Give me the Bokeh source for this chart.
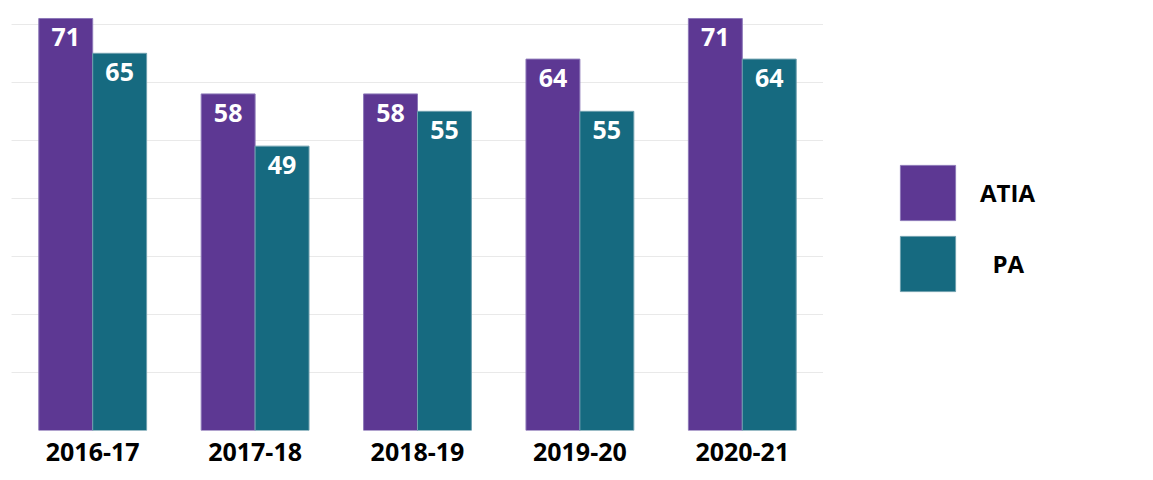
from bokeh.plotting import figure
from bokeh.layouts import row
from bokeh.models import ColumnDataSource, FactorRange, Range1d, Grid, FixedTicker, Legend, LegendItem
from bokeh.transform import dodge
from bokeh.core.properties import value
from bokeh.embed import file_html
from bokeh.resources import INLINE

years = ["2016-17", "2017-18", "2018-19", "2019-20", "2020-21"]
atia = [71, 58, 58, 64, 71]
pa = [65, 49, 55, 55, 64]
series_names = ["ATIA", "\u00a0\u00a0PA"]
grid_ticks = [0, 10, 20, 30, 40, 50, 60, 70]

FONT = "Open Sans"
PURPLE = "#5D3893"
TEAL = "#166A80"
PURPLE_EDGE = "#8C78B8"
TEAL_EDGE = "#6E9FAE"

src = ColumnDataSource(dict(
    year=years, atia=atia, pa=pa,
    atia_lbl=[str(v) for v in atia], pa_lbl=[str(v) for v in pa],
))

p = figure(
    x_range=FactorRange(*years, range_padding=0),
    y_range=Range1d(0, 74.1),
    width=823, height=480,
    output_backend="svg", toolbar_location=None,
    y_axis_location=None,
    min_border_left=11, min_border_right=0, min_border_top=0, min_border_bottom=50,
)
p.outline_line_color = None
p.xgrid.visible = False
p.add_layout(Grid(dimension=1, ticker=FixedTicker(ticks=grid_ticks),
                  grid_line_color="#e9e9e9", grid_line_width=1))

bw = 0.332
p.vbar(x=dodge("year", -bw / 2, range=p.x_range), top="atia", width=bw, source=src,
       fill_color=PURPLE, line_color=PURPLE_EDGE, line_width=1)
p.vbar(x=dodge("year", bw / 2, range=p.x_range), top="pa", width=bw, source=src,
       fill_color=TEAL, line_color=TEAL_EDGE, line_width=1)

for off, col in ((-bw / 2, "atia"), (bw / 2, "pa")):
    p.text(x=dodge("year", off, range=p.x_range), y=col, text=col + "_lbl", source=src,
           text_align="center", text_baseline="top", y_offset=10,
           text_color="white", text_font=value(FONT), text_font_style="bold",
           text_font_size="25px")

ax = p.xaxis[0]
ax.axis_line_color = None
ax.major_tick_line_color = None
ax.minor_tick_line_color = None
ax.major_label_text_font = FONT
ax.major_label_text_font_style = "bold"
ax.major_label_text_font_size = "25px"
ax.major_label_text_color = "#000000"
ax.major_label_standoff = 6

# legend panel (hidden proxy renderers carry the series styling)
lg = figure(
    width=330, height=480, output_backend="svg", toolbar_location=None,
    x_axis_location=None, y_axis_location=None,
    x_range=FactorRange(*years), y_range=Range1d(0, 1),
    min_border_left=0, min_border_right=0, min_border_top=0, min_border_bottom=0,
)
lg.outline_line_color = None
lg.grid.visible = False
l1 = lg.vbar(x="year", top="atia", width=0.3, source=src,
             fill_color=PURPLE, line_color=PURPLE_EDGE, line_width=1, visible=False)
l2 = lg.vbar(x="year", top="pa", width=0.3, source=src,
             fill_color=TEAL, line_color=TEAL_EDGE, line_width=1, visible=False)

legend = Legend(
    items=[LegendItem(label=series_names[0], renderers=[l1]),
           LegendItem(label=series_names[1], renderers=[l2])],
    location=(70, 132),
    glyph_width=69, glyph_height=69, spacing=2,
    padding=0, margin=0,
    border_line_color=None, background_fill_alpha=0,
    inactive_fill_alpha=0,
    label_text_font=FONT, label_text_font_style="bold", label_text_font_size="24px",
    label_text_color="#000000", label_standoff=18,
)
lg.add_layout(legend, "center")

open("out.html", "w").write(file_html(row(p, lg), INLINE))
